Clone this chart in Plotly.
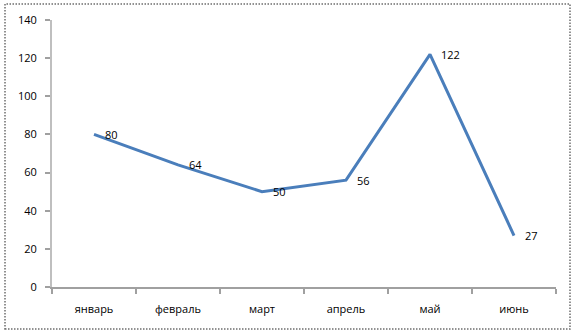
import plotly.graph_objects as go

months = ["январь", "февраль", "март", "апрель", "май", "июнь"]
values = [80, 64, 50, 56, 122, 27]
y_ticks = [0, 20, 40, 60, 80, 100, 120, 140]

W, H = 577, 336
L, R, T, B = 52, 21, 20, 49
pw, ph = W - L - R, H - T - B

def px_x(p):
    return (p - L) / pw

def px_y(p):
    return (H - B - p) / ph

FONT = "Open Sans, Liberation Sans, sans-serif"

fig = go.Figure()
fig.add_trace(go.Scatter(
    x=months, y=values, mode="lines",
    line=dict(color="#4A7EBB", width=3),
    showlegend=False, hoverinfo="x+y",
))

for m, v in zip(months, values):
    fig.add_annotation(
        x=m, y=v, text=str(v), showarrow=False,
        xanchor="left", yanchor="middle", xshift=9,
        font=dict(family=FONT, size=11, color="#000000"),
    )

fig.update_layout(
    width=W, height=H,
    margin=dict(l=L, r=R, t=T, b=B),
    paper_bgcolor="white", plot_bgcolor="white",
    font=dict(family=FONT, size=11, color="#000000"),
    xaxis=dict(
        type="category", range=[-0.5, 5.5],
        showgrid=False, zeroline=False,
        showline=True, linecolor="#A0A0A0", linewidth=1.5,
        ticks="outside", tickson="boundaries", ticklen=5, tickcolor="#A0A0A0", tickwidth=1.5,
        ticklabelstandoff=11,
    ),
    yaxis=dict(
        range=[0, 140], tickvals=y_ticks,
        showgrid=False, zeroline=False,
        showline=True, linecolor="#BFBFBF", linewidth=2,
        ticks="outside", ticklen=5, tickcolor="#A0A0A0", tickwidth=1.5,
        ticklabelstandoff=6,
    ),
    shapes=[dict(
        type="rect", xref="paper", yref="paper",
        x0=px_x(5), x1=px_x(570), y0=px_y(329), y1=px_y(4),
        line=dict(color="#6E6E6E", width=1.5, dash="1.5px,1.5px"),
        fillcolor="rgba(0,0,0,0)", layer="below",
    )],
)

fig.write_html("out.html")
